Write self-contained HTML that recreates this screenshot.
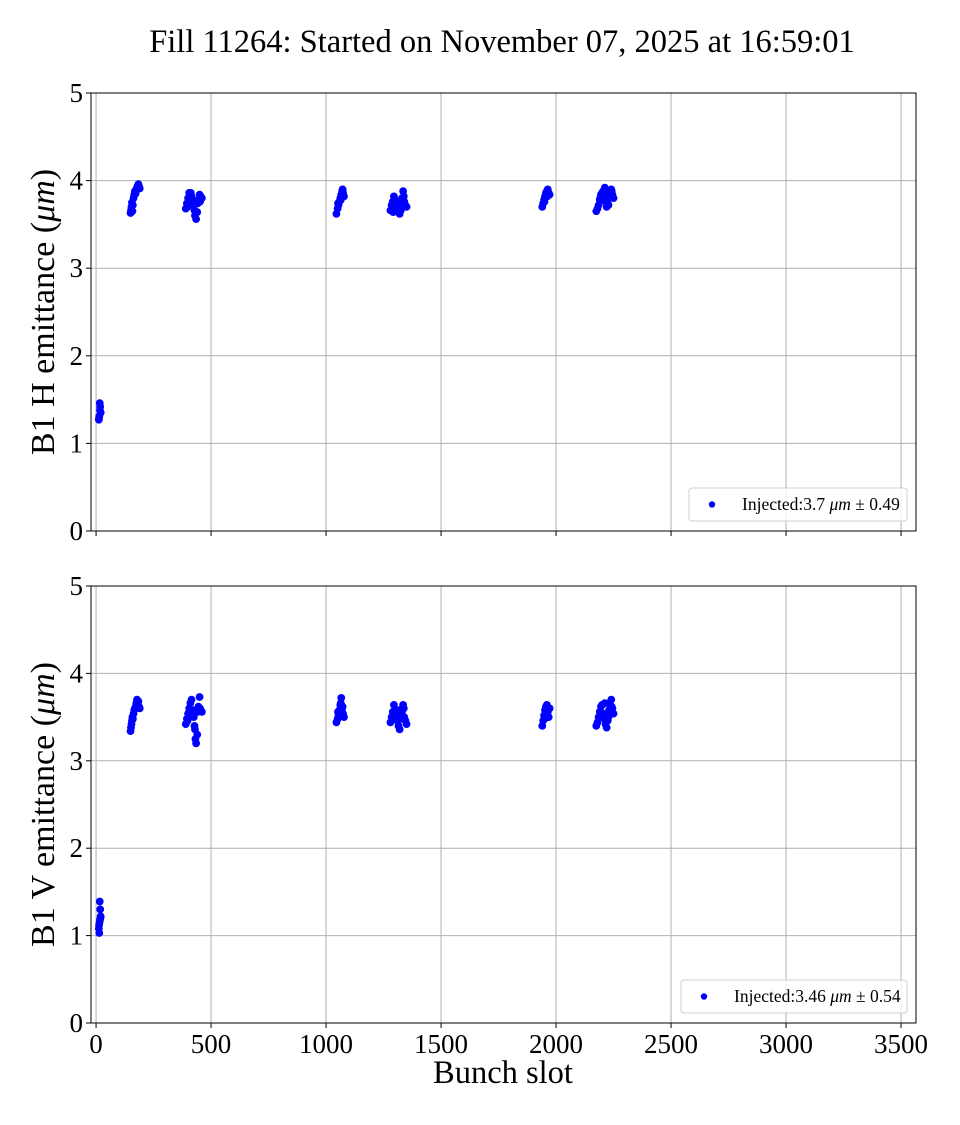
<!DOCTYPE html>
<html><head><meta charset="utf-8"><style>
body{margin:0;background:#fff;}
svg text{font-family:"Liberation Serif","DejaVu Serif",serif;fill:#000;}
</style></head><body>
<svg id="chart" width="960" height="1120" xmlns="http://www.w3.org/2000/svg">
<text x="502" y="52" font-size="32.5" text-anchor="middle">Fill 11264: Started on November 07, 2025 at 16:59:01</text>
</svg>
<script>
const xTicks=[0,500,1000,1500,2000,2500,3000,3500];
const yTicks=[0,1,2,3,4,5];
const hX=[12,14,16,18,20,13,17,
150,152,154,156,158,160,163,166,169,172,175,178,181,184,187,190,
390,395,400,405,410,415,420,425,430,435,440,445,450,455,460,398,412,428,442,452,
1045,1050,1054,1058,1062,1066,1070,1074,1078,1052,1064,1072,
1280,1285,1290,1295,1300,1305,1310,1315,1320,1325,1330,1335,1340,1345,1350,1292,1318,1338,
1940,1944,1948,1952,1956,1960,1964,1968,1972,1950,1962,
2175,2180,2185,2190,2195,2200,2205,2210,2215,2220,2225,2230,2235,2240,2245,2250,2192,2212,2228,2242];
const hY=[1.27,1.31,1.46,1.42,1.35,1.29,1.38,
3.63,3.66,3.70,3.75,3.65,3.72,3.80,3.84,3.88,3.85,3.90,3.92,3.94,3.96,3.93,3.91,
3.68,3.74,3.80,3.86,3.84,3.82,3.78,3.72,3.60,3.56,3.64,3.78,3.84,3.82,3.80,3.70,3.86,3.66,3.74,3.76,
3.62,3.68,3.72,3.76,3.80,3.84,3.88,3.86,3.82,3.74,3.78,3.90,
3.66,3.72,3.76,3.82,3.78,3.74,3.70,3.68,3.62,3.66,3.80,3.88,3.76,3.72,3.70,3.64,3.74,3.82,
3.70,3.74,3.78,3.82,3.86,3.88,3.90,3.86,3.84,3.76,3.82,
3.65,3.68,3.72,3.78,3.84,3.86,3.88,3.82,3.76,3.70,3.74,3.80,3.86,3.90,3.84,3.80,3.80,3.92,3.72,3.88];
const vX=[12,14,16,18,20,13,17,15,19,
150,152,154,156,158,160,163,166,169,172,175,178,181,184,187,190,
390,395,400,405,410,415,420,425,430,435,440,445,450,455,460,398,412,428,432,442,452,
1045,1050,1054,1058,1062,1066,1070,1074,1078,1052,1064,1072,
1280,1285,1290,1295,1300,1305,1310,1315,1320,1325,1330,1335,1340,1345,1350,1292,1318,1338,
1940,1944,1948,1952,1956,1960,1964,1968,1972,1950,1962,
2175,2180,2185,2190,2195,2200,2205,2210,2215,2220,2225,2230,2235,2240,2245,2250,2192,2212,2228,2242];
const vY=[1.08,1.03,1.39,1.30,1.22,1.12,1.18,1.15,1.20,
3.34,3.38,3.42,3.46,3.50,3.48,3.54,3.58,3.60,3.62,3.66,3.70,3.64,3.68,3.62,3.60,
3.42,3.48,3.54,3.60,3.66,3.70,3.58,3.50,3.36,3.20,3.30,3.62,3.73,3.58,3.56,3.46,3.52,3.40,3.25,3.56,3.60,
3.44,3.48,3.52,3.58,3.64,3.72,3.60,3.54,3.50,3.56,3.66,3.62,
3.44,3.50,3.56,3.64,3.58,3.52,3.46,3.40,3.36,3.48,3.56,3.64,3.50,3.46,3.42,3.52,3.58,3.60,
3.40,3.46,3.52,3.58,3.62,3.64,3.56,3.50,3.60,3.48,3.54,
3.40,3.44,3.50,3.56,3.62,3.64,3.54,3.48,3.42,3.38,3.46,3.58,3.64,3.70,3.60,3.54,3.56,3.66,3.50,3.62];
const panels=[{top:93,bottom:531,xs:hX,ys:hY,label:"B1 H emittance (",leg:"Injected:3.7 ",pm:"0.49",lx:689,lw:218,labels:false,name:"h"},
{top:586,bottom:1023,xs:vX,ys:vY,label:"B1 V emittance (",leg:"Injected:3.46 ",pm:"0.54",lx:681,lw:226,labels:true,name:"v"}];
const L=91,R=916,XMIN=-22,XMAX=3565;
const svg=document.getElementById('chart');
const NS="http://www.w3.org/2000/svg";
function mk(tag,at,parent){const e=document.createElementNS(NS,tag);for(const k in at)e.setAttribute(k,at[k]);(parent||svg).appendChild(e);return e;}
function xs(v){return L+(v-XMIN)/(XMAX-XMIN)*(R-L);}
panels.forEach(p=>{
  const ys=v=>p.bottom-v/5*(p.bottom-p.top);
  const g=mk('g',{});
  
  
  xTicks.forEach(t=>{
    const l=mk('line',{x1:xs(t),x2:xs(t),y1:p.top,y2:p.bottom,stroke:'#b0b0b0','stroke-width':1},g);
    
    
    const tk=mk('line',{x1:xs(t),x2:xs(t),y1:p.bottom,y2:p.bottom+5,stroke:'#000','stroke-width':1},g);
    
    
    if(p.labels){const tx=mk('text',{x:xs(t),y:p.bottom+30,'font-size':27,'text-anchor':'middle'},g);tx.textContent=t;
      
      }
  });
  yTicks.forEach(t=>{
    const l=mk('line',{x1:L,x2:R,y1:ys(t),y2:ys(t),stroke:'#b0b0b0','stroke-width':1},g);
    
    
    const tk=mk('line',{x1:L-5,x2:L,y1:ys(t),y2:ys(t),stroke:'#000','stroke-width':1},g);
    
    
    const tx=mk('text',{x:L-8,y:ys(t)+9,'font-size':27,'text-anchor':'end'},g);tx.textContent=t;
    
    
  });
  p.xs.forEach((x,i)=>{
    const c=mk('circle',{cx:xs(x),cy:ys(p.ys[i]),r:3.9,fill:'#0000ff'},g);
    
    
  });
  const fr=mk('rect',{x:L,y:p.top,width:R-L,height:p.bottom-p.top,fill:'none',stroke:'#000','stroke-width':1},g);
  
  
  const cy=(p.top+p.bottom)/2;
  const yl=mk('text',{x:0,y:0,'font-size':34,'text-anchor':'middle',transform:`translate(54,${cy}) rotate(-90)`},g);
  yl.innerHTML=p.label+'<tspan font-style="italic">μm</tspan>)';
  
  
  const lg=mk('g',{},g);
  
  
  const ly=p.bottom-43;
  mk('rect',{x:p.lx,y:ly,width:p.lw,height:33,rx:3,fill:'#fff','fill-opacity':0.8,stroke:'#d0d0d0'},lg);
  mk('circle',{cx:p.lx+23,cy:ly+16.5,r:3.2,fill:'#0000ff'},lg);
  const lt=mk('text',{x:p.lx+53,y:ly+22,'font-size':17.5},lg);
  lt.innerHTML=p.leg+'<tspan font-style="italic">μm</tspan> ± '+p.pm;
});
const xl=mk('text',{x:503,y:1083,'font-size':32.5,'text-anchor':'middle'});
xl.textContent='Bunch slot';


</script>
</body></html>
